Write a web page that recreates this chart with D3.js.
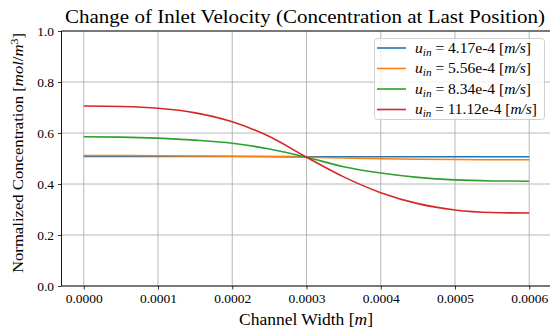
<!DOCTYPE html>
<html><head><meta charset="utf-8">
<script src="https://cdn.jsdelivr.net/npm/d3@7"></script>
<style>
body{margin:0;background:#fff;}
svg text{font-family:"Liberation Serif","DejaVu Serif",serif;fill:#000;}
</style></head>
<body><svg id="c" width="550" height="331"></svg>
<script>
const xPos = [0, 0.00005, 0.0001, 0.00015, 0.0002, 0.00025, 0.0003, 0.00035, 0.0004, 0.00045, 0.0005, 0.00055, 0.0006];
const u417 = [0.508, 0.508, 0.508, 0.508, 0.508, 0.508, 0.507, 0.507, 0.507, 0.507, 0.507, 0.507, 0.507];
const u556 = [0.512, 0.512, 0.511, 0.510, 0.509, 0.507, 0.505, 0.502, 0.499, 0.497, 0.496, 0.495, 0.495];
const u834 = [0.585, 0.584, 0.580, 0.572, 0.560, 0.537, 0.505, 0.468, 0.443, 0.426, 0.416, 0.412, 0.411];
const u1112 = [0.706, 0.704, 0.697, 0.679, 0.644, 0.586, 0.505, 0.428, 0.366, 0.323, 0.298, 0.288, 0.286];
const seriesNames = ["4.17e-4", "5.56e-4", "8.34e-4", "11.12e-4"];
const seriesColors = ["#1f77b4", "#ff7f0e", "#2ca02c", "#d62728"];
const xTicks = [0, 0.0001, 0.0002, 0.0003, 0.0004, 0.0005, 0.0006];
const yTicks = [0, 0.2, 0.4, 0.6, 0.8, 1.0];

const svg = d3.select("#c");
const L = 61.5, R = 551.5, T = 31, B = 286;
const x = d3.scaleLinear().domain([-0.00003, 0.00063]).range([L, R]);
const y = d3.scaleLinear().domain([0, 1]).range([B, T]);

// grid
const g = svg.append("g");
g.selectAll(".gx").data(xTicks).enter().append("line")
  .attr("x1", d => x(d)).attr("x2", d => x(d)).attr("y1", T).attr("y2", B)
  .attr("stroke", "#b0b0b0").attr("stroke-width", 0.9);
g.selectAll(".gy").data(yTicks).enter().append("line")
  .attr("x1", L).attr("x2", R).attr("y1", d => y(d)).attr("y2", d => y(d))
  .attr("stroke", "#b0b0b0").attr("stroke-width", 0.9);

// lines
const all = [u417, u556, u834, u1112];
const line = d3.line().x((d, i) => x(xPos[i])).y(d => y(d)).curve(d3.curveMonotoneX);
all.forEach((s, k) => {
  svg.append("path").datum(s).attr("d", line).attr("fill", "none")
    .attr("stroke", seriesColors[k]).attr("stroke-width", 1.6);
});

// axes
const fmtX = d3.format(".4f"), fmtY = d3.format(".1f");
const ax = svg.append("g").attr("transform", `translate(0,${B})`)
  .call(d3.axisBottom(x).tickValues(xTicks).tickFormat(fmtX).tickSize(3.5).tickPadding(4));
const ay = svg.append("g").attr("transform", `translate(${L},0)`)
  .call(d3.axisLeft(y).tickValues(yTicks).tickFormat(fmtY).tickSize(3.5).tickPadding(4));
[ax, ay].forEach(a => {
  a.select(".domain").remove();
  a.selectAll("text").style("font-family", '"Liberation Serif",serif').style("font-size", "13.5px").attr("fill", "#000");
  a.selectAll("line").attr("stroke", "#000").attr("stroke-width", 0.8);
});
// spines
svg.append("line").attr("x1", L).attr("x2", L).attr("y1", T).attr("y2", B).attr("stroke", "#000").attr("stroke-width", 0.9);
svg.append("line").attr("x1", L).attr("x2", R).attr("y1", B).attr("y2", B).attr("stroke", "#000").attr("stroke-width", 0.9);
svg.append("line").attr("x1", L).attr("x2", R).attr("y1", T).attr("y2", T).attr("stroke", "#000").attr("stroke-width", 0.9);

// title
svg.append("text").attr("x", 305).attr("y", 23).attr("text-anchor", "middle")
  .attr("textLength", 480).attr("lengthAdjust", "spacingAndGlyphs")
  .style("font-size", "18.5px").text("Change of Inlet Velocity (Concentration at Last Position)");

// x label
const xl = svg.append("text").attr("x", 306).attr("y", 325).attr("text-anchor", "middle").style("font-size", "16px")
  .attr("textLength", 134).attr("lengthAdjust", "spacingAndGlyphs");
xl.append("tspan").text("Channel Width [");
xl.append("tspan").style("font-style", "italic").text("m");
xl.append("tspan").text("]");

// y label
const yl = svg.append("text").attr("transform", "translate(23,153) rotate(-90)").attr("text-anchor", "middle").style("font-size", "15.5px")
  .attr("textLength", 240).attr("lengthAdjust", "spacingAndGlyphs");
yl.append("tspan").text("Normalized Concentration [");
yl.append("tspan").style("font-style", "italic").text("mol");
yl.append("tspan").text("/");
yl.append("tspan").style("font-style", "italic").text("m");
yl.append("tspan").attr("dy", -5).style("font-size", "11px").text("3");
yl.append("tspan").attr("dy", 5).text("]");

// legend
const lg = svg.append("g");
lg.append("rect").attr("x", 374.5).attr("y", 38.5).attr("width", 170).attr("height", 81).attr("rx", 3)
  .attr("fill", "rgba(255,255,255,0.8)").attr("stroke", "#cccccc").attr("stroke-width", 0.9);
const legLen = [116, 116, 116, 122];
seriesNames.forEach((n, k) => {
  const yy = 48 + k * 20.5;
  lg.append("line").attr("x1", 377).attr("x2", 406).attr("y1", yy).attr("y2", yy)
    .attr("stroke", seriesColors[k]).attr("stroke-width", 1.6);
  const t = lg.append("text").attr("x", 415).attr("y", yy + 4.5).style("font-size", "14.5px")
    .attr("textLength", legLen[k]).attr("lengthAdjust", "spacingAndGlyphs");
  t.append("tspan").style("font-style", "italic").text("u");
  t.append("tspan").attr("dy", 3).style("font-style", "italic").style("font-size", "10.5px").text("in");
  t.append("tspan").attr("dy", -3).text(" = " + n + " [");
  t.append("tspan").style("font-style", "italic").text("m/s");
  t.append("tspan").text("]");
});
</script></body></html>
